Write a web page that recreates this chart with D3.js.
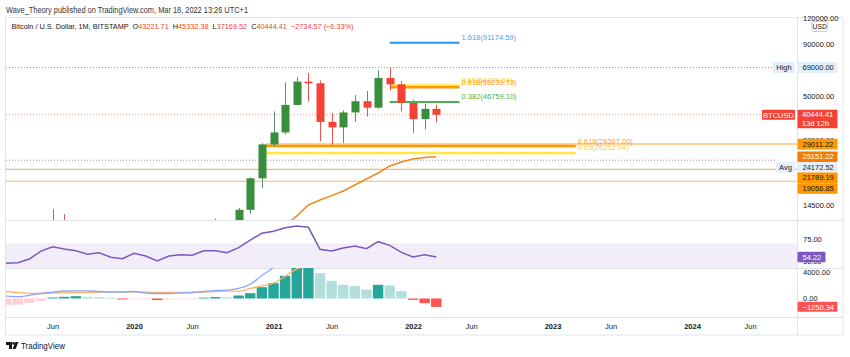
<!DOCTYPE html>
<html><head><meta charset="utf-8">
<script src="https://cdn.jsdelivr.net/npm/d3@7"></script>
<style>
html,body{margin:0;padding:0;background:#fff;}
svg{display:block;font-family:"Liberation Sans",Arial,sans-serif;}
text{white-space:pre;}
</style></head><body>
<svg id="c" width="850" height="357"></svg>
<script>
// ---------------- DATA ----------------
const months = ["2019-02","2019-03","2019-04","2019-05","2019-06","2019-07","2019-08","2019-09","2019-10","2019-11","2019-12",
"2020-01","2020-02","2020-03","2020-04","2020-05","2020-06","2020-07","2020-08","2020-09","2020-10","2020-11","2020-12",
"2021-01","2021-02","2021-03","2021-04","2021-05","2021-06","2021-07","2021-08","2021-09","2021-10","2021-11","2021-12",
"2022-01","2022-02","2022-03"];
const openP  = [3410,3820,4100,5320,8570,10820,10080,9590,8290,9150,7550,7190,9350,8540,6410,8630,9450,9140,11350,11650,10780,13800,19700,28900,33100,45200,58800,57700,37300,35040,41500,47100,43800,61300,57000,46200,38480,43221.71];
const highP  = [4190,4100,5600,9090,13880,13130,12330,10940,10370,9510,7750,9580,10500,9180,9460,10070,10390,11440,12470,12060,14100,19900,29300,41990,58350,61780,64900,59600,41300,42400,50500,52900,67000,69000,59100,47990,45800,45332.38];
const lowP   = [3380,3670,4050,5320,7450,9070,9320,7730,7300,6520,6430,6850,8450,3860,6150,8120,8920,8970,10880,9850,10370,13200,17600,28200,32300,44960,47000,30000,28800,29300,37300,39600,43300,53250,42000,32950,34300,37169.52];
const closeP = [3820,4100,5320,8570,10820,10080,9590,8290,9150,7550,7190,9350,8540,6410,8630,9450,9140,11350,11650,10780,13800,19700,28900,33100,45200,58800,57700,37300,35040,41500,47100,43800,61300,57000,46200,38480,43200,40444.41];
const maLine = [null,null,null,null,null,null,null,null,null,null,null,null,null,null,null,null,null,null,null,null,null,null,null,
 11100,11500,12870,14570,15420,16200,17070,18270,19540,20920,22650,23700,24510,24920,25151.22];
const rsi = [46.9,47.6,51.9,61.1,66.1,63.5,61.5,57.3,59.2,53.9,52.3,58.5,55.4,49.6,55.4,56.9,56.2,61.5,61.5,59.2,65.0,73.8,81.6,83.9,88.0,90.0,88.5,63.1,61.1,64.6,66.9,63.8,71.9,67.7,59.6,54.2,56.9,54.22];
const macd = [405,270,480,750,945,1125,1155,1140,1050,960,975,1050,825,750,750,825,900,1050,1170,1245,1515,2140,3445,4650,6400,8300,9600,9100,8300,7800,7900,7800,8900,9700,9300,8300,7700,7100];
const signal = [1050,900,780,750,795,855,900,930,945,975,1005,990,960,930,900,900,900,960,1050,1110,1080,1500,1875,2300,3300,4450,5000,5400,5700,5800,6000,6450,6850,7750,8200,8500,8400,8350];
const hist = [-950,-900,-650,-350,150,250,350,250,200,100,-150,-60,-30,-240,-150,-100,-90,120,220,170,450,800,1700,2300,3400,4600,4700,3800,2650,2050,1850,1350,2050,1950,1100,-200,-700,-1250.34];

const timeTickMonths = ["2019-06","2020-01","2020-06","2021-01","2021-06","2022-01","2022-06","2023-01","2023-06","2024-01","2024-06"];
const timeTickLabels = ["Jun","2020","Jun","2021","Jun","2022","Jun","2023","Jun","2024","Jun"];
const priceTicks = [120000, 90000, 50000, 30500, 14500];
const rsiTicks = [75, 50];
const macdTicks = [4000, 0];

const fibUpLevels = ["1.618","0.65","0.618","0.382"];
const fibUpValues = [91174.59, 56389.64, 55239.73, 46759.10];
const fibUpSpan = ["2021-11","2022-05"];
const fibLowLevels = ["0.65","0.618"];
const fibLowValues = [26252.94, 28367.00];
const fibLowSpan = ["2020-12","2023-03"];

const rayValue = 29011.22;
const hLineValues = [21789.19, 19056.85];
const highValue = 69000;
const avgValue = 24172.52;
const lastValue = 40444.41;

// ---------------- SETUP ----------------
const mIdx = s => { const [y,m] = s.split("-").map(Number); return (y-2019)*12 + (m-1); };
const idx = months.map(mIdx);
const svg = d3.select("#c");
const L = 6, R = 797, TOP = 17, MAINB = 220, RSIB = 268, MACDB = 317, AXB = 335, FR = 843;

const x = d3.scaleLinear().domain([12, 36]).range([134, 413]);
const y = d3.scaleLog().domain([14500, 90000]).range([205.4, 44]);
const yR = d3.scaleLinear().domain([30, 75]).range([278, 239]);
const yM = d3.scaleLinear().domain([0, 4000]).range([298.5, 271.8]);

const defs = svg.append("defs");
function clip(id, y0, y1){ defs.append("clipPath").attr("id", id).append("rect").attr("x", L).attr("y", y0).attr("width", R-L).attr("height", y1-y0); }
clip("cm", TOP, MAINB); clip("cr", MAINB, RSIB); clip("cd", RSIB, MACDB);

const GREEN = "#388E3C", RED = "#F44336", GW = "#5b8f7b", RW = "#e8544b";
const TXT = "#131722";

// ---------------- HEADER ----------------
svg.append("text").attr("x", 6).attr("y", 13).attr("font-size", 8.5).attr("fill", "#333")
  .attr("textLength", 242).attr("lengthAdjust", "spacingAndGlyphs")
  .text("Wave_Theory published on TradingView.com, Mar 18, 2022 13:26 UTC+1");
const h2 = svg.append("text").attr("x", 11.5).attr("y", 29).attr("font-size", 8).attr("fill", TXT)
  .attr("textLength", 342).attr("lengthAdjust", "spacingAndGlyphs");
[["Bitcoin / U.S. Dollar, 1M, BITSTAMP  O", TXT], ["43221.71", RED], ["  H", TXT], ["45332.38", RED], ["  L", TXT],
 ["37169.52", RED], ["  C", TXT], ["40444.41", RED], ["  ", TXT], ["\u22122734.57 (\u22126.33%)", RED]]
 .forEach(([t,c]) => h2.append("tspan").attr("fill", c).text(t));

// ---------------- FRAME ----------------
const frame = svg.append("g").attr("stroke", "#e0e3eb").attr("fill", "none");
frame.append("rect").attr("x", 5.5).attr("y", TOP+0.5).attr("width", FR-5.5).attr("height", AXB-TOP-0.5);
frame.append("line").attr("x1", R+0.5).attr("x2", R+0.5).attr("y1", TOP).attr("y2", AXB);
[MAINB, RSIB, MACDB].forEach(v => frame.append("line").attr("x1", L).attr("x2", FR).attr("y1", v+0.5).attr("y2", v+0.5));

// ---------------- MAIN PANE ----------------
const gm = svg.append("g").attr("clip-path", "url(#cm)");
// horizontal level lines
gm.append("line").attr("x1", L).attr("x2", 773).attr("y1", y(highValue)).attr("y2", y(highValue))
  .attr("stroke", "#9598a1").attr("stroke-dasharray", "1,2").attr("stroke-width", 1);
gm.append("line").attr("x1", L).attr("x2", 762).attr("y1", y(lastValue)).attr("y2", y(lastValue))
  .attr("stroke", "#f7a1a1").attr("stroke-dasharray", "1,2").attr("stroke-width", 1);
gm.append("line").attr("x1", L).attr("x2", 776).attr("y1", y(avgValue)).attr("y2", y(avgValue))
  .attr("stroke", "#9598a1").attr("stroke-dasharray", "1,2").attr("stroke-width", 1);
hLineValues.forEach(v => gm.append("line").attr("x1", L).attr("x2", R).attr("y1", y(v)).attr("y2", y(v))
  .attr("stroke", "#ffb74d").attr("stroke-width", 1.2));
gm.append("line").attr("x1", x(mIdx(fibLowSpan[0]) + 0.3)).attr("x2", R).attr("y1", y(rayValue)).attr("y2", y(rayValue))
  .attr("stroke", "#ffd199").attr("stroke-width", 2);

// lower fib
const lowColors = {"0.65": "#ffe83b", "0.618": "#ff9800"};
const lowTextColors = {"0.65": "#f5d33a", "0.618": "#ff9f1a"};
fibLowLevels.forEach((lv, i) => {
  gm.append("line").attr("x1", x(mIdx(fibLowSpan[0]) + 0.3)).attr("x2", x(mIdx(fibLowSpan[1])))
    .attr("y1", y(fibLowValues[i])).attr("y2", y(fibLowValues[i]))
    .attr("stroke", lowColors[lv]).attr("stroke-width", lv === "0.618" ? 2.5 : 2.5);
});
// upper fib
const upColors = {"1.618": "#2196F3", "0.65": "#ffe83b", "0.618": "#ff9800", "0.382": "#4caf50"};
const upText = {"1.618": "#42a5f5", "0.65": "#f5d33a", "0.618": "#ff9f1a", "0.382": "#4caf50"};
fibUpLevels.forEach((lv, i) => {
  gm.append("line").attr("x1", x(mIdx(fibUpSpan[0]))).attr("x2", x(mIdx(fibUpSpan[1])))
    .attr("y1", y(fibUpValues[i])).attr("y2", y(fibUpValues[i]))
    .attr("stroke", upColors[lv]).attr("stroke-width", lv === "0.618" ? 2.5 : 2);
});

// MA line
const maPts = idx.map((m, i) => [m, maLine[i]]).filter(d => d[1] != null);
gm.append("path").datum(maPts).attr("fill", "none").attr("stroke", "#f5871f").attr("stroke-width", 1.5)
  .attr("d", d3.line().x(d => x(d[0])).y(d => y(d[1])));

// candles
const cg = gm.append("g");
idx.forEach((m, i) => {
  const up = closeP[i] >= openP[i];
  const cx = Math.round(x(m)) + 0.5;
  cg.append("line").attr("x1", cx).attr("x2", cx).attr("y1", y(highP[i])).attr("y2", y(lowP[i]))
    .attr("stroke", up ? GW : RW).attr("stroke-width", 1);
  const yt = y(Math.max(openP[i], closeP[i])), yb = y(Math.min(openP[i], closeP[i]));
  cg.append("rect").attr("x", cx - 4).attr("width", 8).attr("y", yt).attr("height", Math.max(1, yb - yt))
    .attr("fill", up ? GREEN : RED);
});

// fib labels (drawn over)
const fl = svg.append("g").attr("font-size", 7.5);
fibLowLevels.forEach((lv, i) => {
  fl.append("text").attr("x", x(mIdx(fibLowSpan[1])) + 2).attr("y", y(fibLowValues[i]) - 2.5)
    .attr("fill", lowTextColors[lv]).text(`${lv}(${fibLowValues[i].toFixed(2)})`);
});
fibUpLevels.forEach((lv, i) => {
  fl.append("text").attr("x", x(mIdx(fibUpSpan[1])) + 2).attr("y", y(fibUpValues[i]) - 2.5)
    .attr("fill", upText[lv]).text(`${lv}(${fibUpValues[i].toFixed(2)})`);
});

// ---------------- RSI PANE ----------------
const gr = svg.append("g").attr("clip-path", "url(#cr)");
gr.append("rect").attr("x", L).attr("width", R-L).attr("y", yR(70)).attr("height", yR(30)-yR(70))
  .attr("fill", "rgba(126,87,194,0.1)");
gr.append("path").datum(idx.map((m,i)=>[m, rsi[i]])).attr("fill","none").attr("stroke","#7E57C2").attr("stroke-width",1.5)
  .attr("d", d3.line().x(d=>x(d[0])).y(d=>yR(d[1])));

// ---------------- MACD PANE ----------------
const gd = svg.append("g").attr("clip-path", "url(#cd)");
idx.forEach((m, i) => {
  const h = hist[i], prev = i > 0 ? hist[i-1] : -Infinity;
  const col = h >= 0 ? (h > prev ? "#26A69A" : "#B2DFDB") : (h > prev ? "#FFCDD2" : "#FF5252");
  const y0 = yM(0), y1 = yM(h);
  gd.append("rect").attr("x", x(m) - 5.2).attr("width", 10.4).attr("y", Math.min(y0, y1)).attr("height", Math.max(0.8, Math.abs(y1 - y0)))
    .attr("fill", col);
});
gd.append("path").datum(idx.map((m,i)=>[m, signal[i]])).attr("fill","none").attr("stroke","#ffb366").attr("stroke-width",1.3)
  .attr("d", d3.line().curve(d3.curveMonotoneX).x(d=>x(d[0])).y(d=>yM(d[1])));
gd.append("path").datum(idx.map((m,i)=>[m, macd[i]])).attr("fill","none").attr("stroke","#8aa6ff").attr("stroke-width",1.3)
  .attr("d", d3.line().curve(d3.curveMonotoneX).x(d=>x(d[0])).y(d=>yM(d[1])));

// ---------------- AXES ----------------
function styleAxis(g){ g.select(".domain").remove(); g.selectAll("text").attr("fill", TXT).attr("font-size", 7.5).attr("font-family", "Liberation Sans, Arial, sans-serif"); }
svg.append("g").attr("transform", `translate(${R},0)`)
  .call(d3.axisRight(y).tickValues(priceTicks).tickFormat(d3.format(".2f")).tickSize(0).tickPadding(6)).call(styleAxis);
svg.append("g").attr("transform", `translate(${R},0)`)
  .call(d3.axisRight(yR).tickValues(rsiTicks).tickFormat(d3.format(".2f")).tickSize(0).tickPadding(6)).call(styleAxis);
svg.append("g").attr("transform", `translate(${R},0)`)
  .call(d3.axisRight(yM).tickValues(macdTicks).tickFormat(d3.format(".2f")).tickSize(0).tickPadding(6)).call(styleAxis);
const xa = svg.append("g").attr("transform", `translate(0,${MACDB})`)
  .call(d3.axisBottom(x).tickValues(timeTickMonths.map(mIdx)).tickFormat((d,i)=>timeTickLabels[i]).tickSize(0).tickPadding(6.3))
  .call(styleAxis);
xa.selectAll("text").attr("font-weight", (d,i)=> /^\d{4}$/.test(timeTickLabels[i]) ? "bold" : "normal");

// ---------------- LABELS ----------------
function box(g, x0, yc, w, h, fill, lines, color, anchor){
  g.append("rect").attr("x", x0).attr("y", yc - h/2).attr("width", w).attr("height", h).attr("fill", fill).attr("rx", 1);
  lines.forEach((t, k) => g.append("text").attr("x", anchor === "middle" ? x0 + w/2 : x0 + 5)
    .attr("y", yc - h/2 + 7.8 + k*9).attr("text-anchor", anchor || "start")
    .attr("font-size", 7.5).attr("fill", color).text(t));
}
const lg = svg.append("g");
// USD
lg.append("rect").attr("x", 812).attr("y", 21.5).attr("width", 15.5).attr("height", 10).attr("rx", 2)
  .attr("fill", "#fff").attr("stroke", "#b2b5be").attr("stroke-width", 0.7);
lg.append("text").attr("x", 819.8).attr("y", 29.2).attr("text-anchor", "middle").attr("font-size", 6.8).attr("fill", TXT).text("USD");
// High
box(lg, 773, y(highValue), 22, 11, "#e3effd", ["High"], TXT, "middle");
box(lg, 797.5, y(highValue), 40, 11, "#e3effd", [d3.format(".2f")(highValue)], TXT);
// last price
box(lg, 762, y(lastValue), 33, 10, RED, ["BTCUSD"], "#fff", "middle");
lg.append("rect").attr("x", 797.5).attr("y", y(lastValue) - 5).attr("width", 40).attr("height", 18.5).attr("fill", RED);
lg.append("text").attr("x", 802).attr("y", y(lastValue) + 2.7).attr("font-size", 7.5).attr("fill", "#fff").text(d3.format(".2f")(lastValue));
lg.append("text").attr("x", 802).attr("y", y(lastValue) + 11.5).attr("font-size", 7.5).attr("fill", "#fff").text("13d 12h");
// stacked labels
const stack = [
  {v: rayValue, fill: "#ff9800", color: TXT},
  {v: maLine[maLine.length-1], fill: "#f57c00", color: "#fff"},
  {v: avgValue, fill: "#e3effd", color: TXT, tag: "Avg"},
  {v: hLineValues[0], fill: "#ff9800", color: TXT},
  {v: hLineValues[1], fill: "#ff9800", color: TXT}
].map(d => ({...d, yc: y(d.v)})).sort((a,b)=>a.yc-b.yc);
const LH = 10.6;
stack.forEach((d, i) => { if (i > 0 && d.yc - LH/2 < stack[i-1].yc + LH/2) d.yc = stack[i-1].yc + LH; });
stack.forEach(d => {
  box(lg, 797.5, d.yc, 40, LH, d.fill, [d3.format(".2f")(d.v)], d.color);
  if (d.tag) box(lg, 776, d.yc, 19, LH, d.fill, [d.tag], d.color, "middle");
});
// RSI label
box(lg, 797.5, yR(rsi[rsi.length-1]), 28, 10.5, "#7E57C2", [d3.format(".2f")(rsi[rsi.length-1])], "#fff");
// MACD label
box(lg, 797.5, yM(hist[hist.length-1]), 40, 10, "#FF5252", [d3.format(".2f")(hist[hist.length-1])], "#fff");

// ---------------- LOGO ----------------
const logo = svg.append("g").attr("fill", TXT);
logo.append("path").attr("d", "M6,342 h6 v7 h-3 v-4 h-3 z");
logo.append("circle").attr("cx", 13.6).attr("cy", 343.4).attr("r", 1.3);
logo.append("path").attr("d", "M15.5,342 h3 l-3,7 h-3 z");
logo.append("text").attr("x", 21).attr("y", 349).attr("font-size", 9).attr("fill", TXT)
  .attr("textLength", 44).attr("lengthAdjust", "spacingAndGlyphs").text("TradingView");
</script>
</body></html>
